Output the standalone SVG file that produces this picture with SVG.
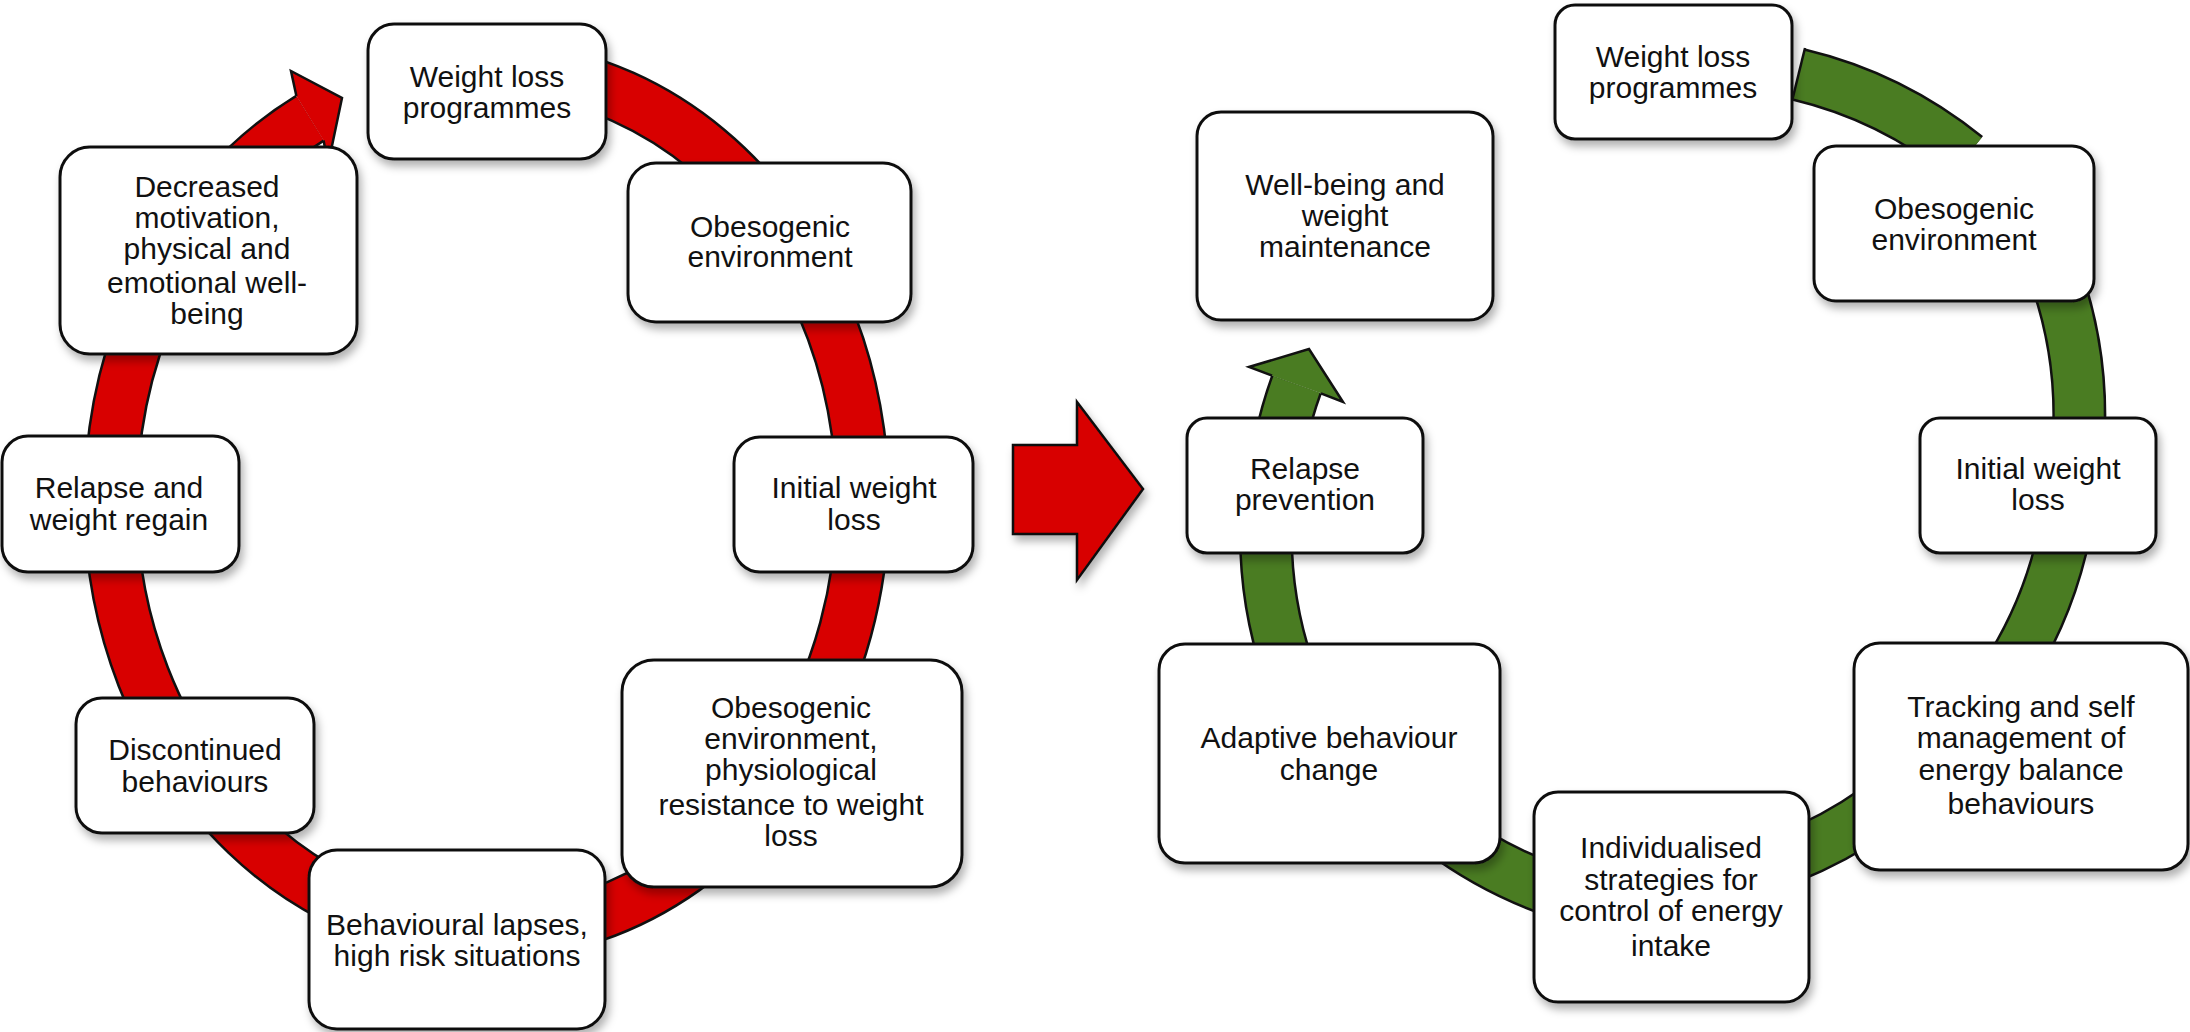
<svg xmlns="http://www.w3.org/2000/svg" width="2190" height="1032" viewBox="0 0 2190 1032">
<style>
.box{fill:#fff;stroke:#111;stroke-width:3;filter:url(#sh)}
.t{font-family:"Liberation Sans",Arial,sans-serif;font-size:30px;fill:#111;text-anchor:middle}
.ol{fill:none;stroke:#111;stroke-width:55}
.olg{fill:none;stroke:#111;stroke-width:54}
.red{fill:none;stroke:#d80000;stroke-width:50}
.grn{fill:none;stroke:#4a7c22;stroke-width:49}
.headr{fill:#d80000;stroke:#111;stroke-width:2.5;stroke-linejoin:miter}
.headg{fill:#4a7c22;stroke:#111;stroke-width:2.5;stroke-linejoin:miter}
.cut{stroke:#111;stroke-width:2.5}
</style>
<defs>
<filter id="sh" x="-10%" y="-10%" width="125%" height="130%">
<feDropShadow dx="3" dy="6" stdDeviation="4" flood-color="#000" flood-opacity="0.3"/>
</filter>
<path id="rArc" d="M 453.7 69.1 A 376 433 0 1 1 310 118.2"/>
<path id="g1" d="M 1798.5 74.5 A 420 420 0 0 1 1966 157"/>
<path id="g2" d="M 2055.6 276 A 420 420 0 0 1 2078.4 443"/>
<path id="g3" d="M 2065 530 A 420 420 0 0 1 2012 666"/>
<path id="g4" d="M 1876 810 A 420 420 0 0 1 1787 858"/>
<path id="g5" d="M 1560 893 A 420 420 0 0 1 1440 830"/>
<path id="g6" d="M 1288 669 A 420 420 0 0 1 1266 528"/>
<path id="g7" d="M 1280.2 442 A 420 420 0 0 1 1296.5 384.5"/>
</defs>
<rect width="2190" height="1032" fill="#fff"/>
<g id="connectors">
<use href="#rArc" class="ol"/>
<path class="headr" d="M 296.4 96 L 291 71 L 342 98 L 328 165 L 323.6 140.4"/>
<use href="#rArc" class="red"/>
<polygon class="headr" style="filter:url(#sh)" points="1013,445 1077,445 1077,402 1143,489 1077,580 1077,534 1013,534"/>
<use href="#g1" class="olg"/><use href="#g2" class="olg"/><use href="#g3" class="olg"/><use href="#g4" class="olg"/><use href="#g5" class="olg"/><use href="#g6" class="olg"/><use href="#g7" class="olg"/>
<path class="headg" d="M 1272.1 375.7 L 1249 367 L 1309 349 L 1343 402 L 1320.9 393.3"/>
<use href="#g1" class="grn"/><use href="#g2" class="grn"/><use href="#g3" class="grn"/><use href="#g4" class="grn"/><use href="#g5" class="grn"/><use href="#g6" class="grn"/><use href="#g7" class="grn"/>
<line class="cut" x1="1805" y1="48" x2="1792" y2="101"/>
</g>
<g id="n-wlp-left"><rect class="box" x="368" y="24" width="238" height="135" rx="26"/>
<text class="t" x="487" y="87">Weight loss</text><text class="t" x="487" y="118">programmes</text></g>
<g id="n-obeso-left"><rect class="box" x="628" y="163" width="283" height="159" rx="28"/>
<text class="t" x="770" y="237">Obesogenic</text><text class="t" x="770" y="267">environment</text></g>
<g id="n-initial-left"><rect class="box" x="734" y="437" width="239" height="135" rx="26"/>
<text class="t" x="854" y="498">Initial weight</text><text class="t" x="854" y="530">loss</text></g>
<g id="n-obeso2-left"><rect class="box" x="622" y="660" width="340" height="227" rx="32"/>
<text class="t" x="791" y="718">Obesogenic</text><text class="t" x="791" y="749">environment,</text><text class="t" x="791" y="780">physiological</text><text class="t" x="791" y="815">resistance to weight</text><text class="t" x="791" y="846">loss</text></g>
<g id="n-lapses-left"><rect class="box" x="309" y="850" width="296" height="179" rx="28"/>
<text class="t" x="457" y="935">Behavioural lapses,</text><text class="t" x="457" y="966">high risk situations</text></g>
<g id="n-discont-left"><rect class="box" x="76" y="698" width="238" height="135" rx="26"/>
<text class="t" x="195" y="760">Discontinued</text><text class="t" x="195" y="792">behaviours</text></g>
<g id="n-relapse-left"><rect class="box" x="2" y="436" width="237" height="136" rx="26"/>
<text class="t" x="119" y="498">Relapse and</text><text class="t" x="119" y="530">weight regain</text></g>
<g id="n-decreased-left"><rect class="box" x="60" y="147" width="297" height="207" rx="30"/>
<text class="t" x="207" y="197">Decreased</text><text class="t" x="207" y="228">motivation,</text><text class="t" x="207" y="259">physical and</text><text class="t" x="207" y="293">emotional well-</text><text class="t" x="207" y="324">being</text></g>
<g id="n-wlp-right"><rect class="box" x="1555" y="5" width="237" height="134" rx="20"/>
<text class="t" x="1673" y="67">Weight loss</text><text class="t" x="1673" y="98">programmes</text></g>
<g id="n-wellbeing-right"><rect class="box" x="1197" y="112" width="296" height="208" rx="24"/>
<text class="t" x="1345" y="195">Well-being and</text><text class="t" x="1345" y="226">weight</text><text class="t" x="1345" y="257">maintenance</text></g>
<g id="n-obeso-right"><rect class="box" x="1814" y="146" width="280" height="155" rx="22"/>
<text class="t" x="1954" y="219">Obesogenic</text><text class="t" x="1954" y="250">environment</text></g>
<g id="n-initial-right"><rect class="box" x="1920" y="418" width="236" height="135" rx="20"/>
<text class="t" x="2038" y="479">Initial weight</text><text class="t" x="2038" y="510">loss</text></g>
<g id="n-relapse-right"><rect class="box" x="1187" y="418" width="236" height="135" rx="20"/>
<text class="t" x="1305" y="479">Relapse</text><text class="t" x="1305" y="510">prevention</text></g>
<g id="n-tracking-right"><rect class="box" x="1854" y="643" width="334" height="227" rx="26"/>
<text class="t" x="2021" y="717">Tracking and self</text><text class="t" x="2021" y="748">management of</text><text class="t" x="2021" y="780">energy balance</text><text class="t" x="2021" y="814">behaviours</text></g>
<g id="n-adaptive-right"><rect class="box" x="1159" y="644" width="341" height="219" rx="26"/>
<text class="t" x="1329" y="748">Adaptive behaviour</text><text class="t" x="1329" y="780">change</text></g>
<g id="n-individual-right"><rect class="box" x="1534" y="792" width="275" height="210" rx="24"/>
<text class="t" x="1671" y="858">Individualised</text><text class="t" x="1671" y="890">strategies for</text><text class="t" x="1671" y="921">control of energy</text><text class="t" x="1671" y="956">intake</text></g>
</svg>
